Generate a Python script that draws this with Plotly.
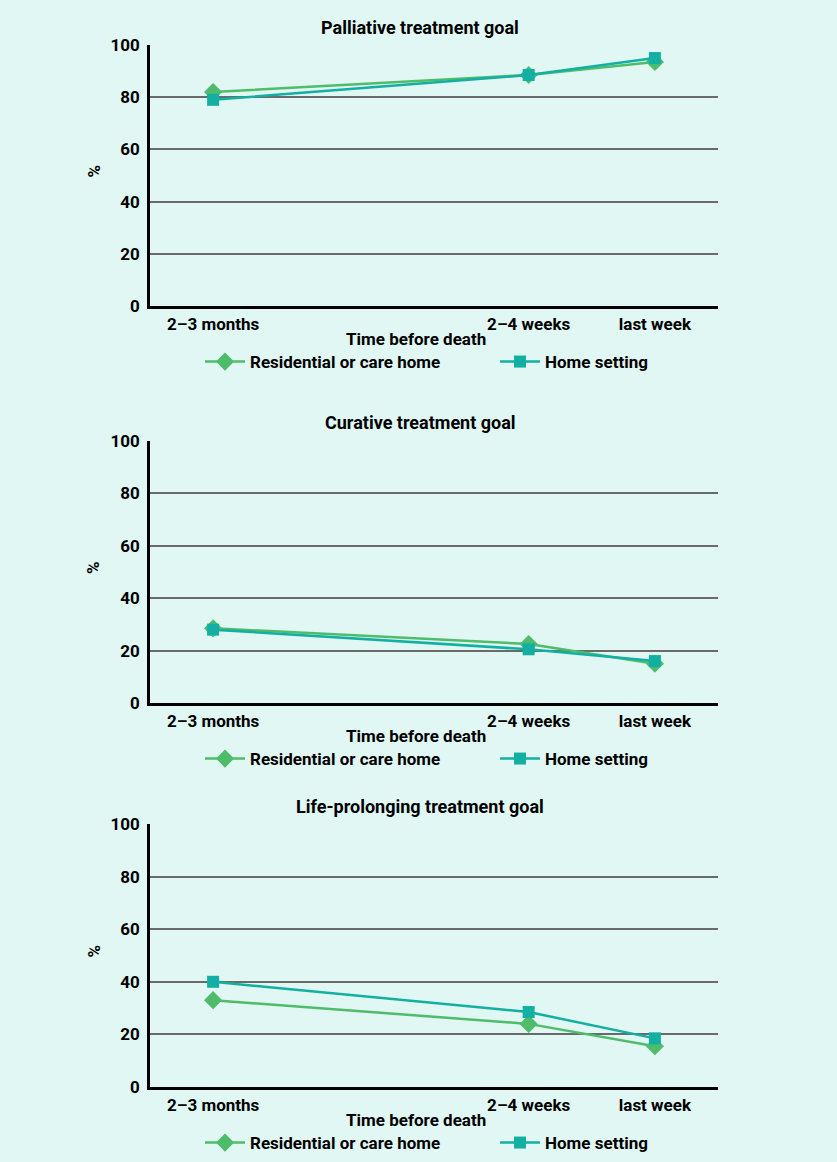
import plotly.graph_objects as go
from plotly.subplots import make_subplots

# ---------------- data ----------------
time_labels = ["2\u20133 months", "2\u20134 weeks", "last week"]
time_pos = [0, 5, 7]  # relative spacing of the time points on the axis

panel_titles = ["Palliative treatment goal", "Curative treatment goal", "Life-prolonging treatment goal"]
x_title = "Time before death"
y_title = "%"

residential_palliative = [82, 88.5, 93.5]
home_palliative = [79, 88.5, 95]

residential_curative = [28.5, 22.5, 15]
home_curative = [28, 20.5, 16]

residential_lifeprolong = [33, 24, 15.5]
home_lifeprolong = [40, 28.5, 18.5]

series_names = ["Residential or care home", "Home setting"]
y_ticks = [0, 20, 40, 60, 80, 100]

# ---------------- styling ----------------
W, H = 837, 1162
BG = "#e0f7f3"
GREEN = "#4fbc6c"
TEAL = "#12afa2"
FONT = "Roboto, sans-serif"
ML, MR = 150, 119
PW = W - ML - MR

panels = [
    (residential_palliative, home_palliative, 45, 306),
    (residential_curative, home_curative, 441, 703),
    (residential_lifeprolong, home_lifeprolong, 824, 1087),
]


def px_x(px):
    return (px - ML) / PW


def px_y(py):
    return 1 - py / H


fig = make_subplots(rows=3, cols=1)

legend_x_px = [200, 495]  # left edge of each legend entry (pixels)
for i, (res, home, top, bot) in enumerate(panels):
    r = i + 1
    lg_a = "legend" if i == 0 else f"legend{2 * i + 1}"
    lg_b = f"legend{2 * i + 2}"
    fig.add_trace(go.Scatter(
        x=time_pos, y=res, name=series_names[0], mode="lines+markers",
        line=dict(color=GREEN, width=2.5),
        marker=dict(symbol="diamond", size=14, color=GREEN),
        legend=lg_a,
    ), row=r, col=1)
    fig.add_trace(go.Scatter(
        x=time_pos, y=home, name=series_names[1], mode="lines+markers",
        line=dict(color=TEAL, width=2.5),
        marker=dict(symbol="square", size=12, color=TEAL),
        legend=lg_b,
    ), row=r, col=1)

    yax = "yaxis" if r == 1 else f"yaxis{r}"
    xax = "xaxis" if r == 1 else f"xaxis{r}"
    fig.layout[yax].update(
        domain=[px_y(bot), px_y(top)], range=[0, 100], tickvals=y_ticks,
        showgrid=True, gridcolor="#6a6a6a", gridwidth=2,
        showline=True, linecolor="black", linewidth=2.5,
        zeroline=False, ticks="", ticklabelstandoff=4,
        tickfont=dict(family=FONT, size=17, color="black", weight="bold"),
        fixedrange=True,
    )
    fig.layout[xax].update(
        range=[-1, 8], tickvals=time_pos, ticktext=time_labels,
        showgrid=False, showline=True, linecolor="black", linewidth=2.5,
        zeroline=False, ticks="", ticklabelstandoff=1,
        tickfont=dict(family=FONT, size=17, color="black", weight="bold"),
        fixedrange=True,
    )
    # panel title
    fig.add_annotation(
        text=panel_titles[i], xref="paper", yref="paper",
        x=px_x(420), y=px_y(top - 18), xanchor="center", yanchor="middle",
        showarrow=False, font=dict(family=FONT, size=18, color="black", weight="bold"),
    )
    # x axis title
    fig.add_annotation(
        text=x_title, xref="paper", yref="paper",
        x=px_x(416), y=px_y(bot + 33), xanchor="center", yanchor="middle",
        showarrow=False, font=dict(family=FONT, size=17, color="black", weight="bold"),
    )
    # y axis title
    fig.add_annotation(
        text=y_title, xref="paper", yref="paper", textangle=-90,
        x=px_x(93), y=px_y((top + bot) / 2 - 4), xanchor="center", yanchor="middle",
        showarrow=False, font=dict(family=FONT, size=17, color="black", weight="bold"),
    )
    legend_y = px_y(bot + 56)
    for lg, xpx in zip([lg_a, lg_b], legend_x_px):
        fig.layout[lg] = dict(
            orientation="h", x=px_x(xpx), y=legend_y,
            xanchor="left", yanchor="middle", bgcolor="rgba(0,0,0,0)",
            itemwidth=40, borderwidth=0,
            font=dict(family=FONT, size=17, color="black", weight="bold"),
        )

fig.update_layout(
    width=W, height=H,
    margin=dict(l=ML, r=MR, t=0, b=0, autoexpand=False),
    paper_bgcolor=BG, plot_bgcolor=BG,
    showlegend=True,
)

fig.write_html("out.html", config={"displayModeBar": False},
               post_script="document.body.style.margin='0';")
